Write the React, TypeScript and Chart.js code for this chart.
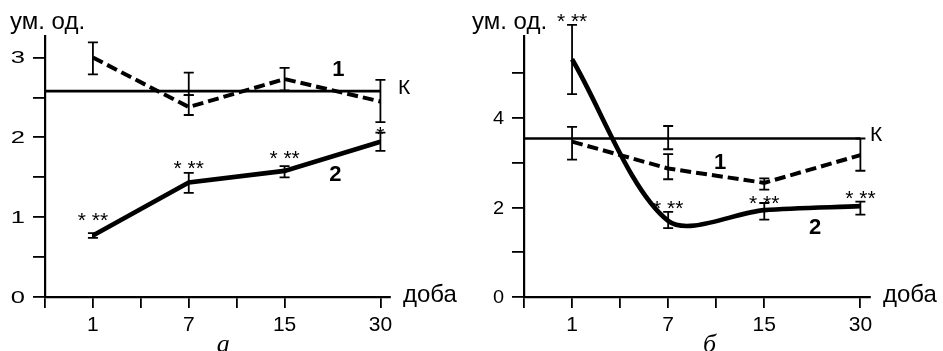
import { useEffect, useRef } from 'react';
import { Chart, registerables } from 'chart.js';

Chart.register(...registerables);

const FONT = '"Liberation Sans", Arial, sans-serif';
const SERIF = '"Liberation Serif", "Times New Roman", serif';

// shared x categories (days) and their positions on the linear axis
const days = ['1', '7', '15', '30'];
const dayPos = [1, 2, 3, 4];
const xTickPos = [0.5, 1, 1.5, 2, 2.5, 3, 4];
const kSpan = [0.5, 4];

// ---- panel а ----
const aSeries1 = [3.0, 2.38, 2.73, 2.45];
const aSeries1Low = [2.79, 2.28, 2.59, 2.19];
const aSeries1High = [3.19, 2.53, 2.87, 2.72];
const aSeries2 = [0.77, 1.435, 1.58, 1.945];
const aSeries2Low = [0.74, 1.305, 1.5, 1.83];
const aSeries2High = [0.8, 1.556, 1.64, 2.06];
const aControl = 2.58;
const aControlErrPos = [2];
const aControlErrLow = [2.53];
const aControlErrHigh = [2.81];
const aStars = ['* **', '* **', '* **', '*'];
const aStarY = [1.03, 1.68, 1.8, 2.1];
const aYTicks = [0, 0.5, 1, 1.5, 2, 2.5, 3];
const aYLabels = [0, 1, 2, 3];
const aYMax = 3.27;
const aLabel1 = [3.56, 2.84];
const aLabel2 = [3.53, 1.53];

// ---- panel б ----
const bSeries1 = [3.47, 2.87, 2.55, 3.17];
const bSeries1Low = [3.07, 2.63, 2.4, 2.82];
const bSeries1High = [3.8, 3.19, 2.65, 3.54];
const bSeries2 = [5.31, 1.7, 1.94, 2.03];
const bSeries2Low = [4.53, 1.54, 1.73, 1.84];
const bSeries2High = [6.08, 1.9, 2.1, 2.13];
const bControl = 3.54;
const bControlErrPos = [2];
const bControlErrLow = [3.3];
const bControlErrHigh = [3.82];
const bStars = ['* **', '* **', '* **', '* **'];
const bStarY = [6.28, 2.09, 2.22, 2.33];
const bYTicks = [0, 1, 2, 3, 4, 5];
const bYLabels = [0, 2, 4];
const bYMax = 5.83;
const bLabel1 = [2.54, 2.99];
const bLabel2 = [3.53, 1.54];

type ErrSet = { x: number[]; low: number[]; high: number[] };

type Panel = {
  width: number;
  yAxisWidth: number;
  padRight: number;
  yMax: number;
  yTicks: number[];
  yLabels: number[];
  yLabelSize: number;
  yLabelStretch: number;
  s1: number[];
  s2: number[];
  k: number;
  s2Tension: number;
  errs: ErrSet[];
  stars: string[];
  starY: number[];
  label1: number[];
  label2: number[];
  kOffset: number;
  titleLeft: number;
  caption: string;
  captionX: number;
};

const panels: Panel[] = [
  {
    width: 470,
    yAxisWidth: 45,
    padRight: 80,
    yMax: aYMax,
    yTicks: aYTicks,
    yLabels: aYLabels,
    yLabelSize: 17,
    yLabelStretch: 1.5,
    s1: aSeries1,
    s2: aSeries2,
    k: aControl,
    s2Tension: 0,
    errs: [
      { x: dayPos, low: aSeries1Low, high: aSeries1High },
      { x: dayPos, low: aSeries2Low, high: aSeries2High },
      { x: aControlErrPos, low: aControlErrLow, high: aControlErrHigh },
    ],
    stars: aStars,
    starY: aStarY,
    label1: aLabel1,
    label2: aLabel2,
    kOffset: 8,
    titleLeft: 10,
    caption: 'а',
    captionX: 2.36,
  },
  {
    width: 473,
    yAxisWidth: 54,
    padRight: 73,
    yMax: bYMax,
    yTicks: bYTicks,
    yLabels: bYLabels,
    yLabelSize: 19,
    yLabelStretch: 1.05,
    s1: bSeries1,
    s2: bSeries2,
    k: bControl,
    s2Tension: 0.3,
    errs: [
      { x: dayPos, low: bSeries1Low, high: bSeries1High },
      { x: dayPos, low: bSeries2Low, high: bSeries2High },
      { x: bControlErrPos, low: bControlErrLow, high: bControlErrHigh },
    ],
    stars: bStars,
    starY: bStarY,
    label1: bLabel1,
    label2: bLabel2,
    kOffset: 0,
    titleLeft: 2,
    caption: 'б',
    captionX: 2.43,
  },
];

function buildChart(canvas: HTMLCanvasElement, p: Panel) {
  const overlay = {
    id: 'overlay',
    afterDraw(chart: any) {
      const ctx = chart.ctx as CanvasRenderingContext2D;
      const xs = chart.scales.x;
      const ys = chart.scales.y;
      const ca = chart.chartArea;
      ctx.save();
      ctx.strokeStyle = '#000';
      ctx.fillStyle = '#000';
      // error bars
      ctx.lineWidth = 1.8;
      for (const e of p.errs) {
        e.x.forEach((xv, i) => {
          const px = xs.getPixelForValue(xv);
          const yl = ys.getPixelForValue(e.low[i]);
          const yh = ys.getPixelForValue(e.high[i]);
          ctx.beginPath();
          ctx.moveTo(px, yl);
          ctx.lineTo(px, yh);
          ctx.moveTo(px - 5, yl);
          ctx.lineTo(px + 5, yl);
          ctx.moveTo(px - 5, yh);
          ctx.lineTo(px + 5, yh);
          ctx.stroke();
        });
      }
      // y tick labels (horizontally stretched like the original)
      ctx.font = `${p.yLabelSize}px ${FONT}`;
      ctx.textAlign = 'right';
      ctx.textBaseline = 'middle';
      for (const v of p.yLabels) {
        const py = ys.getPixelForValue(v);
        ctx.save();
        ctx.translate(ca.left - 20, py + 1);
        ctx.scale(p.yLabelStretch, 1);
        ctx.fillText(String(v), 0, 0);
        ctx.restore();
      }
      // significance stars
      const starSize = 21;
      ctx.font = `${starSize}px ${FONT}`;
      ctx.textAlign = 'center';
      ctx.textBaseline = 'alphabetic';
      p.stars.forEach((s, i) => {
        const px = xs.getPixelForValue(dayPos[i]);
        const py = ys.getPixelForValue(p.starY[i]);
        ctx.fillText(s, px, py + starSize * 0.57);
      });
      // series labels
      ctx.font = `bold 22px ${FONT}`;
      ctx.textBaseline = 'middle';
      ctx.fillText('1', xs.getPixelForValue(p.label1[0]), ys.getPixelForValue(p.label1[1]));
      ctx.fillText('2', xs.getPixelForValue(p.label2[0]), ys.getPixelForValue(p.label2[1]));
      // control label
      ctx.font = `21px ${FONT}`;
      ctx.textAlign = 'left';
      ctx.fillText('К', ca.right + p.kOffset, ys.getPixelForValue(p.k) - 3);
      // axis titles
      ctx.font = `24px ${FONT}`;
      ctx.textBaseline = 'alphabetic';
      ctx.fillText('доба', ca.right + 13, ca.bottom + 4.5);
      ctx.fillText('ум. од.', p.titleLeft, 28.5);
      // panel caption
      ctx.font = `italic 26px ${SERIF}`;
      ctx.textAlign = 'center';
      ctx.fillText(p.caption, xs.getPixelForValue(p.captionX), 352);
      ctx.restore();
    },
  };

  return new Chart(canvas, {
    type: 'line',
    data: {
      datasets: [
        {
          data: kSpan.map((x) => ({ x, y: p.k })),
          borderColor: '#000',
          borderWidth: 2.7,
          pointRadius: 0,
          fill: false,
        },
        {
          data: dayPos.map((x, i) => ({ x, y: p.s1[i] })),
          borderColor: '#000',
          borderWidth: 4,
          borderDash: [11, 5],
          pointRadius: 0,
          fill: false,
        },
        {
          data: dayPos.map((x, i) => ({ x, y: p.s2[i] })),
          borderColor: '#000',
          borderWidth: 4.6,
          pointRadius: 0,
          tension: p.s2Tension,
          fill: false,
        },
      ],
    },
    options: {
      animation: false,
      responsive: false,
      devicePixelRatio: 1,
      layout: { padding: { left: 0, right: p.padRight, top: 36, bottom: 0 } },
      plugins: { legend: { display: false }, tooltip: { enabled: false } },
      scales: {
        x: {
          type: 'linear',
          min: 0.5,
          max: 4.1,
          afterFit: (s: any) => {
            s.height = 54;
          },
          afterBuildTicks: (s: any) => {
            s.ticks = xTickPos.map((v) => ({ value: v }));
          },
          grid: {
            display: true,
            drawOnChartArea: false,
            drawTicks: true,
            tickLength: 11,
            color: '#000',
            lineWidth: 1.8,
          },
          border: { display: true, color: '#000', width: 2.2 },
          ticks: {
            autoSkip: false,
            maxRotation: 0,
            padding: 5,
            color: '#000',
            font: { family: FONT, size: 21 },
            callback: (v: any) => {
              const i = dayPos.indexOf(Number(v));
              return i >= 0 ? days[i] : '';
            },
          },
        },
        y: {
          type: 'linear',
          min: 0,
          max: p.yMax,
          afterFit: (s: any) => {
            s.width = p.yAxisWidth;
          },
          afterBuildTicks: (s: any) => {
            s.ticks = p.yTicks.map((v) => ({ value: v }));
          },
          grid: {
            display: true,
            drawOnChartArea: false,
            drawTicks: true,
            tickLength: 12,
            color: '#000',
            lineWidth: 1.8,
          },
          border: { display: true, color: '#000', width: 2.2 },
          ticks: { display: false },
        },
      },
    },
    plugins: [overlay],
  });
}

function PanelChart({ p, left }: { p: Panel; left: number }) {
  const ref = useRef<HTMLCanvasElement | null>(null);
  useEffect(() => {
    if (!ref.current) return;
    const chart = buildChart(ref.current, p);
    return () => chart.destroy();
  }, [p]);
  return (
    <canvas
      ref={ref}
      width={p.width}
      height={351}
      style={{ position: 'absolute', left, top: 0, width: p.width, height: 351, display: 'block' }}
    />
  );
}

export default function App() {
  return (
    <div
      style={{
        position: 'fixed',
        left: 0,
        top: 0,
        width: 943,
        height: 351,
        background: '#fff',
        overflow: 'hidden',
      }}
    >
      <PanelChart p={panels[0]} left={0} />
      <PanelChart p={panels[1]} left={470} />
    </div>
  );
}
